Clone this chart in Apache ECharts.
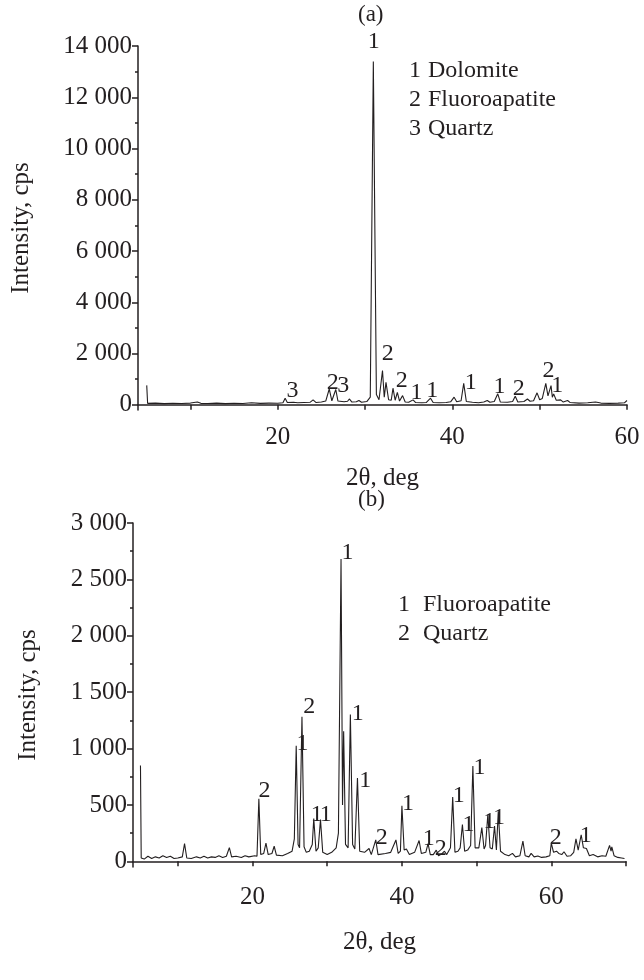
<!DOCTYPE html>
<html>
<head>
<meta charset="utf-8">
<script src="https://cdn.jsdelivr.net/npm/echarts@6/dist/echarts.min.js"></script>
<style>
  html, body { margin: 0; padding: 0; background: #fff; }
  #chart-container { width: 644px; height: 980px; }
</style>
</head>
<body>
<div id="chart-container"></div>
<script>
var dom = document.getElementById("chart-container");
var myChart = echarts.init(dom, null, { renderer: "canvas" });

var ink = "#231f20";
var serif = "Liberation Serif";

// (a) pattern: [2theta, intensity]
var patternA = [
  [5.0, 760], [5.1, 60], [6, 70], [7, 50], [8, 65], [9, 55], [10, 70], [10.8, 110], [11.2, 60],
  [12, 55], [13, 70], [14, 50], [15, 65], [16, 55], [17, 80], [18, 60], [19, 70], [20, 65],
  [20.6, 80], [20.85, 260], [21.1, 90], [21.8, 100], [22.3, 80], [23, 90], [23.7, 100],
  [24.05, 195], [24.4, 90], [25, 110], [25.5, 150], [25.9, 620], [26.2, 160], [26.4, 180],
  [26.65, 600], [26.9, 150], [27.6, 120], [28.0, 140], [28.2, 230], [28.5, 110], [29.0, 120],
  [29.3, 170], [29.6, 100], [30.2, 130], [30.6, 300], [30.95, 13400], [31.3, 400], [31.6, 200],
  [32.0, 1340], [32.2, 300], [32.4, 880], [32.7, 200], [33.0, 180], [33.2, 650], [33.45, 180],
  [33.7, 490], [33.95, 150], [34.3, 360], [34.6, 110], [35.0, 100], [35.5, 195], [35.8, 90],
  [36.5, 80], [37.0, 90], [37.5, 260], [37.8, 90], [38.5, 80], [39.3, 90], [39.8, 120],
  [40.2, 300], [40.5, 120], [41.0, 160], [41.3, 840], [41.6, 130], [42.3, 100], [43.0, 80],
  [43.6, 110], [44.0, 170], [44.3, 100], [44.8, 130], [45.2, 430], [45.5, 110], [46.3, 100],
  [46.9, 130], [47.2, 340], [47.5, 110], [48.2, 130], [48.6, 230], [48.9, 140], [49.3, 160],
  [49.7, 470], [50.0, 200], [50.3, 250], [50.7, 840], [50.95, 350], [51.3, 750], [51.45, 300],
  [51.6, 430], [51.9, 180], [52.4, 195], [52.7, 110], [53.2, 170], [53.5, 90], [54.5, 70],
  [55.5, 80], [56.4, 110], [57, 70], [58, 60], [59, 70], [59.7, 80], [60, 170]
];

// (b) pattern: [2theta, intensity]
var patternB = [
  [5.0, 850], [5.1, 30], [5.5, 20], [6, 45], [6.5, 25], [7, 40], [7.5, 30], [8, 50], [8.5, 35],
  [9, 45], [9.5, 25], [10, 30], [10.6, 40], [10.9, 157], [11.2, 30], [11.8, 25], [12.5, 40],
  [13, 30], [13.5, 45], [14, 30], [14.5, 40], [15, 35], [15.5, 50], [16, 35], [16.5, 45],
  [16.9, 122], [17.2, 40], [17.8, 45], [18.5, 35], [19, 50], [19.5, 40], [20.3, 50], [20.6, 45],
  [20.85, 555], [21.1, 60], [21.5, 70], [21.8, 162], [22.1, 60], [22.6, 70], [22.9, 134],
  [23.2, 55], [24, 50], [24.7, 70], [25.3, 90], [25.6, 200], [25.85, 1025], [26.1, 150],
  [26.3, 120], [26.62, 1281], [26.9, 130], [27.2, 80], [27.6, 90], [28.0, 150], [28.2, 379],
  [28.5, 90], [28.8, 120], [29.1, 370], [29.4, 80], [30.0, 60], [30.6, 80], [31.2, 120],
  [31.5, 250], [31.85, 2680], [32.05, 500], [32.2, 1153], [32.45, 150], [32.8, 120],
  [33.1, 1301], [33.4, 150], [33.7, 110], [34.05, 740], [34.35, 90], [35.0, 80], [35.6, 114],
  [35.9, 60], [36.5, 190], [36.8, 60], [37.8, 70], [38.5, 80], [39.2, 190], [39.5, 70],
  [39.8, 90], [40.0, 493], [40.3, 100], [40.6, 110], [41.0, 60], [41.7, 80], [42.3, 185],
  [42.6, 70], [43.2, 80], [43.5, 157], [43.8, 60], [44.2, 60], [44.6, 100], [44.9, 50],
  [45.4, 70], [45.7, 90], [46.0, 60], [46.5, 120], [46.8, 570], [47.1, 80], [47.5, 90],
  [47.8, 120], [48.1, 327], [48.4, 90], [48.8, 100], [49.2, 140], [49.5, 846], [49.8, 120],
  [50.3, 120], [50.7, 299], [51.0, 110], [51.2, 140], [51.5, 413], [51.8, 120], [52.1, 110],
  [52.4, 313], [52.65, 100], [52.9, 441], [53.2, 90], [53.8, 60], [54.3, 50], [54.8, 71],
  [55.2, 40], [55.8, 50], [56.2, 180], [56.5, 50], [57.0, 40], [57.3, 71], [57.7, 40],
  [58.2, 48], [58.7, 35], [59.3, 40], [59.8, 50], [60.0, 162], [60.3, 80], [60.7, 90],
  [61.0, 70], [61.4, 60], [61.7, 85], [62.1, 45], [62.6, 50], [63.0, 80], [63.3, 199],
  [63.6, 100], [64.0, 236], [64.3, 120], [64.7, 114], [65.1, 50], [65.6, 60], [66.2, 40],
  [66.8, 50], [67.3, 45], [67.8, 142], [68.0, 90], [68.1, 128], [68.4, 50], [68.9, 35],
  [69.4, 30], [69.8, 25]
];

// peak numbers: [2theta, intensity, phase]
var peakMarksA = [
  [21.7, 560, "3"], [26.3, 880, "2"], [27.5, 750, "3"], [31.0, 14150, "1"], [32.6, 1990, "2"],
  [34.2, 950, "2"], [35.9, 490, "1"], [37.7, 560, "1"], [42.1, 880, "1"], [45.4, 690, "1"],
  [47.6, 650, "2"], [51.0, 1340, "2"], [52.0, 750, "1"]
];
var peakMarksB = [
  [21.6, 626, "2"], [27.6, 1367, "2"], [26.7, 1040, "1"], [28.6, 413, "1"], [29.8, 413, "1"],
  [32.7, 2740, "1"], [34.1, 1310, "1"], [35.1, 712, "1"], [37.3, 213, "2"], [40.8, 512, "1"],
  [43.6, 200, "1"], [45.2, 114, "2"], [47.6, 584, "1"], [48.9, 327, "1"], [50.4, 826, "1"],
  [51.7, 356, "1"], [53.0, 384, "1"], [60.6, 213, "2"], [64.6, 228, "1"]
];

var phasesA = ["Dolomite", "Fluoroapatite", "Quartz"];
var phasesB = ["Fluoroapatite", "Quartz"];

var xTicksA = [10, 20, 30, 40, 50, 60];
var xTicksB = [10, 20, 30, 40, 50, 60, 70];
var xLabels = [20, 40, 60];
var yMajorA = [0, 2000, 4000, 6000, 8000, 10000, 12000, 14000];
var yMinorA = [1000, 3000, 5000, 7000, 9000, 11000, 13000];
var yMajorB = [0, 500, 1000, 1500, 2000, 2500, 3000];
var yMinorB = [250, 750, 1250, 1750, 2250, 2750];

function thousands(v) {
  if (v < 1000) return String(v);
  return Math.floor(v / 1000) + " " + String(v % 1000).padStart(3, "0");
}

function xAxisFor(grid, max, ticks, gap, margin) {
  return {
    type: "value", gridIndex: grid, min: 4, max: max,
    name: "2θ, deg", nameLocation: "middle", nameGap: gap,
    nameTextStyle: { color: ink, fontFamily: serif, fontSize: 25 },
    axisLine: { lineStyle: { color: ink, width: 1.5 } },
    axisTick: { customValues: ticks, length: 5, lineStyle: { color: ink, width: 1.5 } },
    axisLabel: { customValues: xLabels, color: ink, fontFamily: serif, fontSize: 25, margin: margin },
    splitLine: { show: false }
  };
}

function yAxesFor(grid, min, max, major, minor, gap) {
  return [
    {
      type: "value", gridIndex: grid, min: min, max: max,
      name: "Intensity, cps", nameLocation: "middle", nameGap: gap,
      nameTextStyle: { color: ink, fontFamily: serif, fontSize: 25 },
      axisLine: { show: true, lineStyle: { color: ink, width: 1.5 } },
      axisTick: { customValues: major, length: 6, lineStyle: { color: ink, width: 1.5 } },
      axisLabel: { customValues: major, formatter: thousands, color: ink, fontFamily: serif, fontSize: 25, margin: 6 },
      splitLine: { show: false }
    },
    {
      type: "value", gridIndex: grid, min: min, max: max, position: "left",
      axisLine: { show: false },
      axisTick: { customValues: minor, length: 3, lineStyle: { color: ink, width: 1.5 } },
      axisLabel: { show: false },
      splitLine: { show: false }
    }
  ];
}

// peak numbers drawn as text at data coordinates
function marks(xi, yi, list) {
  return {
    type: "custom", xAxisIndex: xi, yAxisIndex: yi, silent: true, z: 5, clip: false,
    data: list.map(function (m) { return [m[0], m[1]]; }),
    renderItem: function (params, api) {
      var pt = api.coord([api.value(0), api.value(1)]);
      return {
        type: "text", x: pt[0], y: pt[1],
        style: {
          text: list[params.dataIndex][2], fill: ink, font: "24px " + serif,
          align: "center", verticalAlign: "middle"
        }
      };
    }
  };
}

function legendText(x, gapX, y, items) {
  var out = [];
  items.forEach(function (name, i) {
    out.push({ type: "text", left: x, top: y + i * 29, style: { text: String(i + 1), fill: ink, font: "24px " + serif } });
    out.push({ type: "text", left: x + gapX, top: y + i * 29, style: { text: name, fill: ink, font: "24px " + serif } });
  });
  return out;
}

var option = {
  animation: false,
  backgroundColor: "#fff",
  grid: [
    { left: 138, right: 17, top: 46, height: 364 },
    { left: 133, right: 18, top: 523, height: 344 }
  ],
  xAxis: [xAxisFor(0, 60, xTicksA, 56, 15), xAxisFor(1, 70, xTicksB, 63, 18)],
  yAxis: yAxesFor(0, -200, 14000, yMajorA, yMinorA, 104).concat(yAxesFor(1, -50, 3000, yMajorB, yMinorB, 92)),
  graphic: [
    { type: "text", left: 358, top: 3, style: { text: "(a)", fill: ink, font: "23px " + serif } },
    { type: "text", left: 358, top: 488, style: { text: "(b)", fill: ink, font: "23px " + serif } }
  ].concat(legendText(409, 19, 59, phasesA), legendText(398, 25, 593, phasesB)),
  series: [
    {
      type: "line", xAxisIndex: 0, yAxisIndex: 0, data: patternA, symbol: "none",
      lineStyle: { color: ink, width: 1.1 }, silent: true
    },
    {
      type: "line", xAxisIndex: 1, yAxisIndex: 2, data: patternB, symbol: "none",
      lineStyle: { color: ink, width: 1.1 }, silent: true
    },
    marks(0, 0, peakMarksA),
    marks(1, 2, peakMarksB)
  ]
};

myChart.setOption(option);

window.addEventListener("resize", function () {
  myChart.resize();
});
</script>
</body>
</html>
